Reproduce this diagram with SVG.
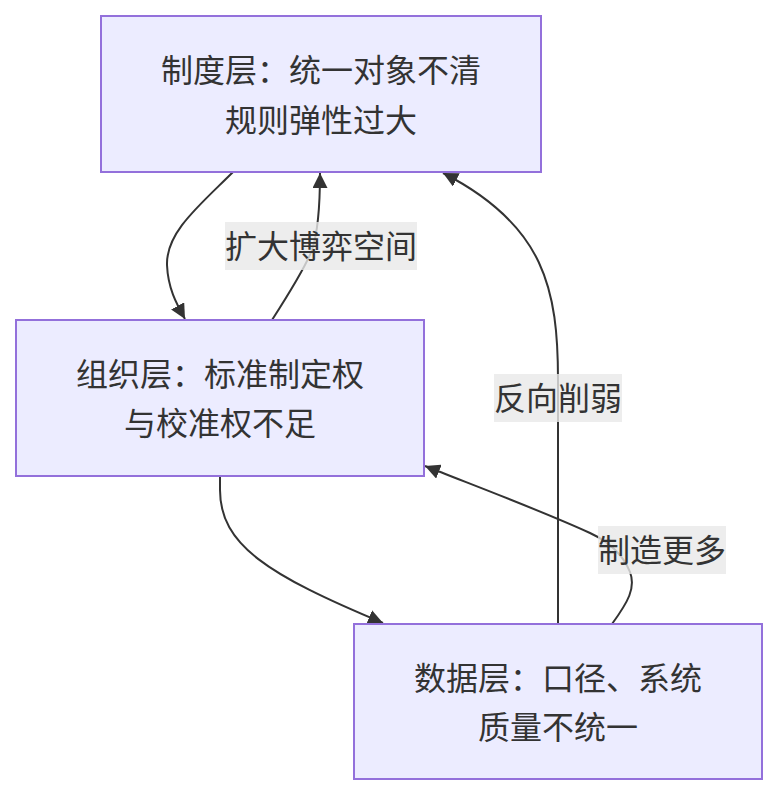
<svg xmlns="http://www.w3.org/2000/svg" width="778" height="796" viewBox="0 0 778 796">
<style>
.node rect{fill:#ECECFF;stroke:#9370DB;stroke-width:2}
text{font-family:"Noto Sans CJK SC","Noto Sans",sans-serif;font-size:32px;fill:#333;text-anchor:middle;dominant-baseline:central}
.edge{fill:none;stroke:#333;stroke-width:2;marker-end:url(#arrow)}
.lbl rect{fill:#e8e8e8;fill-opacity:0.8}
</style>
<defs>
<marker id="arrow" viewBox="0 0 10 10" refX="10" refY="5" markerWidth="15" markerHeight="15" markerUnits="userSpaceOnUse" orient="auto">
<path d="M0,0 L10,5 L0,10 z" fill="#333"/>
</marker>
</defs>
<rect width="778" height="796" fill="#fff"/>
<g id="edges">
<path class="edge" d="M233,172 C200,205 166,232 167,265 C168,288 176,303 185,319"/>
<path class="edge" d="M272,320 C290,292 305,268 312,250 C318,232 320,205 320,173"/>
<path class="edge" d="M220,476 L220,490 C220,545 268,575 383,623"/>
<path class="edge" d="M558,624 L558,380 C558,290 545,225 443,173"/>
<path class="edge" d="M612,624 C628,602 636,588 630,572 C622,552 605,540 590,533 C540,510 470,484 425,466"/>
</g>
<g id="labels">
<g class="lbl" id="label-kuoda"><rect x="225" y="222" width="192" height="48"/><text x="321" y="244">扩大博弈空间</text></g>
<g class="lbl" id="label-fanxiang"><rect x="494" y="374" width="128" height="48"/><text x="558" y="396">反向削弱</text></g>
<g class="lbl" id="label-zhizao"><rect x="598" y="526" width="128" height="48"/><text x="662" y="548">制造更多</text></g>
</g>
<g class="node" id="node-zhidu"><rect x="101" y="16" width="440" height="156"/><text x="321" y="68">制度层：统一对象不清</text><text x="321" y="118">规则弹性过大</text></g>
<g class="node" id="node-zuzhi"><rect x="16" y="320" width="408" height="156"/><text x="220" y="372">组织层：标准制定权</text><text x="220" y="421">与校准权不足</text></g>
<g class="node" id="node-shuju"><rect x="354" y="624" width="408" height="155"/><text x="558" y="676">数据层：口径、系统</text><text x="558" y="725">质量不统一</text></g>
</svg>
